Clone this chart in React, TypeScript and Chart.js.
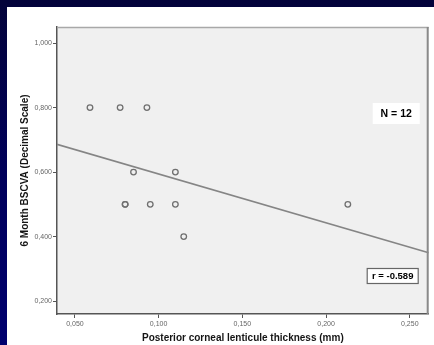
import React, { useEffect, useRef } from "react";
import { Chart, registerables } from "chart.js";

Chart.register(...registerables);

// ---- data ----
const xTicks = [0.05, 0.1, 0.15, 0.2, 0.25];
const yTicks = [0.2, 0.4, 0.6, 0.8, 1.0];
const thickness = [0.059, 0.077, 0.093, 0.085, 0.11, 0.08, 0.08, 0.095, 0.11, 0.213, 0.115];
const bscva = [0.8, 0.8, 0.8, 0.6, 0.6, 0.5, 0.5, 0.5, 0.5, 0.5, 0.4];
const fitX = [0.0393, 0.2613];
const fitY = [0.686, 0.35];
const xRange = [0.0393, 0.2613];
const yRange = [0.16, 1.05];
const nLabel = "N = 12";
const rLabel = "r = -0.589";
const xTitle = "Posterior corneal lenticule thickness (mm)";
const yTitle = "6 Month BSCVA (Decimal Scale)";

const FONT = "Arial, 'Liberation Sans', sans-serif";
const fmt = (v: number) => Number(v).toFixed(3).replace(".", ",");

const framePlugin = {
  id: "frame",
  beforeDraw(chart: any) {
    const { ctx, chartArea: a } = chart;
    ctx.save();
    ctx.fillStyle = "#f0f0f0";
    ctx.fillRect(a.left, a.top, a.right - a.left, a.bottom - a.top);
    ctx.restore();
  },
  afterDraw(chart: any) {
    const { ctx, chartArea: a } = chart;
    ctx.save();
    // top and right frame
    ctx.strokeStyle = "#a8a8a8";
    ctx.lineWidth = 1.5;
    ctx.beginPath();
    ctx.moveTo(a.left, a.top + 0.5);
    ctx.lineTo(a.right, a.top + 0.5);
    ctx.stroke();
    ctx.strokeStyle = "#8a8a8a";
    ctx.lineWidth = 2;
    ctx.beginPath();
    ctx.moveTo(a.right - 1, a.top);
    ctx.lineTo(a.right - 1, a.bottom);
    ctx.stroke();

    // N label box
    const nx = a.right - 56, ny = a.top + 76, nw = 47, nh = 21;
    ctx.fillStyle = "#ffffff";
    ctx.fillRect(nx, ny, nw, nh);
    ctx.fillStyle = "#000";
    ctx.font = `bold 10.5px ${FONT}`;
    ctx.textAlign = "center";
    ctx.textBaseline = "middle";
    ctx.fillText(nLabel, nx + nw / 2, ny + nh / 2 + 1);

    // r label box
    const rx = a.right - 62, ry = a.top + 241, rw = 52, rh = 16;
    ctx.fillStyle = "#ffffff";
    ctx.fillRect(rx, ry, rw, rh);
    ctx.strokeStyle = "#666";
    ctx.lineWidth = 1.2;
    ctx.strokeRect(rx + 0.5, ry + 0.5, rw - 1, rh - 1);
    ctx.fillStyle = "#000";
    ctx.font = `bold 9.5px ${FONT}`;
    ctx.fillText(rLabel, rx + rw / 2, ry + rh / 2 + 0.5);
    ctx.restore();
  },
};

export default function App() {
  const ref = useRef<HTMLCanvasElement | null>(null);

  useEffect(() => {
    if (!ref.current) return;
    const chart = new Chart(ref.current, {
      type: "scatter",
      data: {
        datasets: [
          {
            type: "scatter",
            data: thickness.map((x, i) => ({ x, y: bscva[i] })),
            pointStyle: "circle",
            pointRadius: 2.8,
            borderColor: "#707070",
            borderWidth: 1.3,
            backgroundColor: "rgba(0,0,0,0)",
          } as any,
          {
            type: "line",
            data: fitX.map((x, i) => ({ x, y: fitY[i] })),
            borderColor: "#858585",
            borderWidth: 1.6,
            pointRadius: 0,
            fill: false,
          } as any,
        ],
      },
      options: {
        responsive: false,
        animation: false,
        devicePixelRatio: 1,
        layout: { padding: { top: 20, right: 4, left: 0, bottom: 0 } },
        plugins: { legend: { display: false }, tooltip: { enabled: false } },
        scales: {
          x: {
            type: "linear",
            min: xRange[0],
            max: xRange[1],
            afterBuildTicks: (s: any) => {
              s.ticks = xTicks.map((v) => ({ value: v }));
            },
            afterFit: (s: any) => {
              s.height = 31;
            },
            ticks: {
              callback: (v: any) => fmt(v),
              font: { size: 7, family: FONT },
              color: "#666",
              padding: 2,
              maxRotation: 0,
              autoSkip: false,
            },
            grid: { drawOnChartArea: false, drawTicks: true, tickLength: 4, color: "#555", lineWidth: 1 },
            border: { display: true, color: "#555", width: 1.5 },
            title: {
              display: true,
              text: xTitle,
              font: { size: 10, weight: "bold", family: FONT },
              color: "#151515",
              padding: { top: 0, bottom: 1 },
            },
          },
          y: {
            type: "linear",
            min: yRange[0],
            max: yRange[1],
            afterBuildTicks: (s: any) => {
              s.ticks = yTicks.map((v) => ({ value: v }));
            },
            afterFit: (s: any) => {
              s.width = 50;
            },
            ticks: {
              callback: (v: any) => fmt(v),
              font: { size: 7, family: FONT },
              color: "#666",
              padding: 1,
              autoSkip: false,
            },
            grid: { drawOnChartArea: false, drawTicks: true, tickLength: 4, color: "#555", lineWidth: 1 },
            border: { display: true, color: "#555", width: 1.5 },
            title: {
              display: true,
              text: yTitle,
              font: { size: 10, weight: "bold", family: FONT },
              color: "#151515",
              padding: { top: 12, bottom: 0 },
            },
          },
        },
      } as any,
      plugins: [framePlugin],
    });
    return () => chart.destroy();
  }, []);

  return (
    <div
      style={{
        position: "fixed",
        left: 0,
        top: 0,
        width: 434,
        height: 345,
        background: "linear-gradient(to bottom, #03033a 0%, #00005a 50%, #00006e 100%)",
        overflow: "hidden",
      }}
    >
      <div style={{ position: "absolute", left: 7, top: 7, width: 427, height: 338, background: "#fff" }}>
        <canvas ref={ref} width={427} height={338} style={{ display: "block", width: 427, height: 338 }} />
      </div>
    </div>
  );
}
